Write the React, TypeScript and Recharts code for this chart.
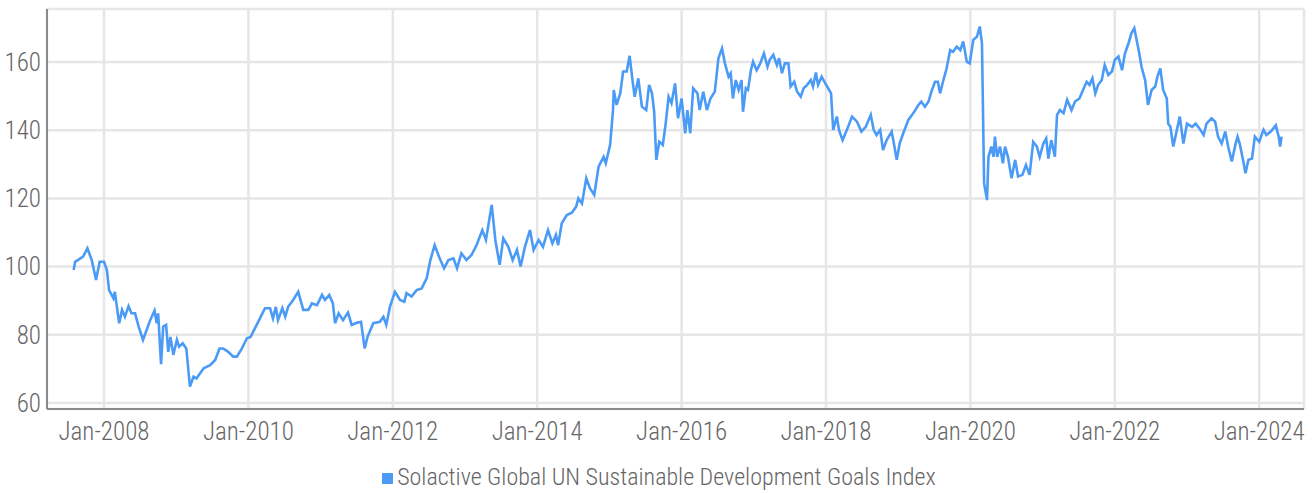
import React from 'react';
import { LineChart, Line, XAxis, YAxis, CartesianGrid, Legend } from 'recharts';

const SERIES_NAME = 'Solactive Global UN Sustainable Development Goals Index';
const LINE_COLOR = '#4b9bf6';
const FONT = '"Roboto Condensed", "Liberation Sans Narrow", "DejaVu Sans Condensed", sans-serif';

// decimal-year dates of the sampled points
const dates: number[] = [
  2007.58, 2007.60, 2007.71, 2007.77, 2007.83, 2007.89, 2007.94, 2008.00, 2008.04, 2008.07,
  2008.13, 2008.15, 2008.21, 2008.25, 2008.29, 2008.34, 2008.38, 2008.43, 2008.48, 2008.54,
  2008.59, 2008.64, 2008.70, 2008.73, 2008.75, 2008.79, 2008.82, 2008.86, 2008.89, 2008.92,
  2008.96, 2009.01, 2009.04, 2009.09, 2009.14, 2009.19, 2009.24, 2009.28, 2009.38, 2009.47,
  2009.54, 2009.60, 2009.65, 2009.72, 2009.79, 2009.84, 2009.91, 2009.98, 2010.03, 2010.09,
  2010.16, 2010.23, 2010.30, 2010.34, 2010.38, 2010.41, 2010.47, 2010.51, 2010.55, 2010.62,
  2010.69, 2010.76, 2010.83, 2010.88, 2010.95, 2011.02, 2011.06, 2011.12, 2011.17, 2011.20,
  2011.25, 2011.31, 2011.38, 2011.43, 2011.50, 2011.56, 2011.61, 2011.65, 2011.73, 2011.82,
  2011.87, 2011.91, 2011.96, 2012.03, 2012.10, 2012.16, 2012.19, 2012.26, 2012.33, 2012.40,
  2012.47, 2012.52, 2012.58, 2012.64, 2012.71, 2012.77, 2012.84, 2012.89, 2012.95, 2013.02,
  2013.09, 2013.16, 2013.24, 2013.29, 2013.32, 2013.37, 2013.42, 2013.48, 2013.53, 2013.60,
  2013.66, 2013.72, 2013.77, 2013.83, 2013.90, 2013.95, 2014.02, 2014.08, 2014.15, 2014.21,
  2014.26, 2014.29, 2014.34, 2014.41, 2014.48, 2014.54, 2014.57, 2014.62, 2014.68, 2014.73,
  2014.79, 2014.85, 2014.92, 2014.95, 2015.01, 2015.05, 2015.06, 2015.10, 2015.15, 2015.19,
  2015.24, 2015.28, 2015.32, 2015.35, 2015.40, 2015.45, 2015.51, 2015.55, 2015.59, 2015.62,
  2015.65, 2015.69, 2015.74, 2015.78, 2015.82, 2015.86, 2015.91, 2015.95, 2016.00, 2016.05,
  2016.08, 2016.12, 2016.16, 2016.22, 2016.25, 2016.30, 2016.35, 2016.40, 2016.46, 2016.51,
  2016.56, 2016.60, 2016.65, 2016.68, 2016.71, 2016.75, 2016.79, 2016.83, 2016.85, 2016.89,
  2016.92, 2016.96, 2016.99, 2017.04, 2017.09, 2017.14, 2017.19, 2017.22, 2017.27, 2017.32,
  2017.35, 2017.39, 2017.43, 2017.48, 2017.51, 2017.56, 2017.60, 2017.65, 2017.69, 2017.74,
  2017.79, 2017.82, 2017.86, 2017.89, 2017.94, 2017.99, 2018.03, 2018.07, 2018.10, 2018.15,
  2018.18, 2018.23, 2018.29, 2018.36, 2018.43, 2018.49, 2018.55, 2018.62, 2018.66, 2018.70,
  2018.75, 2018.79, 2018.84, 2018.91, 2018.94, 2018.98, 2019.02, 2019.07, 2019.14, 2019.21,
  2019.28, 2019.32, 2019.37, 2019.42, 2019.46, 2019.51, 2019.55, 2019.58, 2019.62, 2019.67,
  2019.72, 2019.76, 2019.81, 2019.86, 2019.90, 2019.95, 2019.99, 2020.04, 2020.09, 2020.13,
  2020.16, 2020.17, 2020.19, 2020.23, 2020.25, 2020.29, 2020.32, 2020.34, 2020.37, 2020.41,
  2020.45, 2020.48, 2020.52, 2020.57, 2020.62, 2020.66, 2020.72, 2020.77, 2020.82, 2020.87,
  2020.92, 2020.96, 2021.01, 2021.05, 2021.08, 2021.12, 2021.17, 2021.20, 2021.24, 2021.29,
  2021.34, 2021.40, 2021.45, 2021.51, 2021.56, 2021.61, 2021.65, 2021.69, 2021.73, 2021.77,
  2021.82, 2021.86, 2021.91, 2021.96, 2022.00, 2022.05, 2022.10, 2022.14, 2022.19, 2022.23,
  2022.27, 2022.33, 2022.37, 2022.42, 2022.46, 2022.51, 2022.56, 2022.59, 2022.63, 2022.67,
  2022.72, 2022.74, 2022.77, 2022.81, 2022.86, 2022.90, 2022.95, 2023.00, 2023.07, 2023.12,
  2023.17, 2023.23, 2023.27, 2023.34, 2023.39, 2023.43, 2023.48, 2023.53, 2023.57, 2023.62,
  2023.67, 2023.70, 2023.73, 2023.78, 2023.81, 2023.85, 2023.90, 2023.94, 2024.00, 2024.06,
  2024.10, 2024.16, 2024.23, 2024.27, 2024.29, 2024.31,
];

// index level at each date
const values: number[] = [
  99.0, 101.4, 102.9, 105.4, 101.9, 96.1, 101.4, 101.4, 99.0, 93.1,
  90.7, 92.6, 83.4, 87.3, 85.3, 88.4, 86.3, 86.3, 82.4, 78.5,
  81.4, 84.3, 87.1, 83.4, 86.3, 71.4, 82.4, 82.9, 75.0, 79.4,
  74.1, 78.5, 76.5, 77.5, 76.0, 64.8, 67.7, 67.2, 70.2, 71.1,
  72.6, 76.0, 76.0, 75.0, 73.6, 73.6, 76.0, 79.0, 79.4, 81.9,
  84.8, 87.8, 87.8, 84.8, 88.2, 84.3, 87.8, 85.3, 88.2, 90.2,
  92.6, 87.3, 87.3, 89.2, 88.7, 91.7, 90.2, 91.7, 89.2, 83.4,
  86.3, 84.3, 86.5, 82.9, 83.5, 83.8, 76.0, 79.4, 83.4, 83.8,
  85.3, 82.9, 88.2, 92.6, 90.2, 89.7, 92.2, 91.2, 93.1, 93.6,
  96.6, 101.9, 106.3, 102.9, 99.5, 101.9, 102.4, 99.5, 103.9, 101.9,
  103.4, 106.3, 110.7, 107.8, 111.7, 118.1, 107.8, 100.5, 108.3, 105.8,
  101.9, 104.9, 100.0, 105.8, 110.7, 104.9, 107.8, 105.8, 110.7, 106.8,
  109.3, 106.3, 112.7, 115.1, 115.8, 117.6, 120.0, 118.5, 125.9, 123.0,
  121.0, 129.3, 132.2, 130.3, 135.7, 145.9, 151.8, 147.4, 150.8, 157.2,
  157.2, 161.8, 154.7, 149.8, 155.2, 146.9, 145.9, 153.3, 150.8, 145.4,
  131.3, 136.6, 135.7, 142.0, 149.8, 147.9, 153.7, 143.5, 149.3, 139.1,
  145.9, 139.1, 152.3, 150.8, 145.9, 151.3, 145.9, 149.3, 151.3, 161.1,
  164.0, 159.6, 155.7, 156.7, 149.3, 154.7, 151.8, 154.7, 145.4, 152.3,
  151.8, 157.6, 160.1, 157.6, 159.6, 162.5, 158.6, 160.6, 162.1, 159.1,
  161.1, 156.7, 159.6, 159.6, 152.8, 154.2, 151.3, 149.8, 152.3, 153.3,
  154.7, 152.8, 156.9, 153.3, 155.7, 153.7, 152.3, 150.8, 140.1, 144.0,
  140.1, 137.1, 140.1, 144.0, 142.5, 139.6, 141.0, 144.5, 140.1, 138.6,
  140.1, 134.2, 137.1, 139.6, 136.1, 131.3, 136.1, 139.1, 143.0, 145.0,
  147.4, 148.4, 146.9, 148.4, 151.3, 154.2, 154.2, 150.8, 154.2, 158.1,
  163.5, 163.0, 164.5, 163.5, 166.0, 160.1, 159.6, 166.5, 167.4, 170.4,
  165.5, 151.8, 124.4, 119.5, 132.2, 135.2, 132.2, 138.1, 132.2, 135.2,
  130.3, 135.2, 132.2, 125.9, 131.3, 126.4, 126.9, 129.8, 126.9, 136.6,
  135.2, 132.2, 136.1, 137.6, 131.7, 137.1, 132.2, 144.5, 145.9, 145.0,
  148.9, 145.9, 148.4, 149.3, 151.8, 154.2, 153.3, 155.2, 150.8, 153.3,
  154.7, 159.1, 156.2, 157.2, 160.6, 161.6, 157.6, 162.5, 165.5, 168.4,
  169.9, 163.5, 158.6, 154.7, 147.4, 151.8, 152.8, 155.7, 158.1, 151.8,
  149.3, 141.9, 141.0, 135.2, 140.1, 144.0, 136.1, 141.9, 141.0, 141.9,
  140.6, 138.6, 141.9, 143.5, 142.5, 138.1, 136.1, 139.6, 135.2, 130.8,
  135.7, 138.1, 136.1, 130.8, 127.4, 131.3, 131.7, 138.1, 136.6, 140.1,
  138.6, 139.6, 141.5, 138.1, 135.2, 138.1,
];

const yTicks = [60, 80, 100, 120, 140, 160];
const xTicks = [2008, 2010, 2012, 2014, 2016, 2018, 2020, 2022, 2024];

const rows = dates.map((t, i) => ({ t, v: values[i] }));

export default function App() {
  return (
    <div style={{ position: 'absolute', left: 0, top: 0, background: '#fff' }}>
      <LineChart
        width={1314}
        height={493}
        data={rows}
        margin={{ top: 9, right: 10, bottom: 0, left: 0 }}
      >
        <CartesianGrid stroke="#e6e6e6" strokeWidth={2.5} />
        <XAxis
          dataKey="t"
          type="number"
          domain={[2007.2105, 2024.6205]}
          allowDataOverflow
          ticks={xTicks}
          tickFormatter={(v: number) => `Jan-${v}`}
          height={52}
          tickSize={0}
          tickMargin={13}
          axisLine={{ stroke: '#8a8a8a', strokeWidth: 2 }}
          tick={{ fill: '#666', fontSize: 25, fontFamily: FONT, fontWeight: 300 }}
        />
        <YAxis
          type="number"
          domain={[58.24, 175.54]}
          allowDataOverflow
          ticks={yTicks}
          width={47}
          tickSize={0}
          tickMargin={6}
          axisLine={{ stroke: '#8a8a8a', strokeWidth: 2 }}
          tick={{ fill: '#666', fontSize: 25, fontFamily: FONT, fontWeight: 300 }}
        />
        <Legend
          verticalAlign="bottom"
          iconType="square"
          iconSize={11}
          wrapperStyle={{ left: 12, bottom: 0, height: 32, lineHeight: '32px', fontFamily: FONT, fontSize: 24, fontWeight: 300 }}
          formatter={(value: string) => <span style={{ color: '#666' }}>{value}</span>}
        />
        <Line
          type="linear"
          dataKey="v"
          name={SERIES_NAME}
          stroke={LINE_COLOR}
          strokeWidth={2.6}
          dot={false}
          activeDot={false}
          isAnimationActive={false}
        />
      </LineChart>
    </div>
  );
}
